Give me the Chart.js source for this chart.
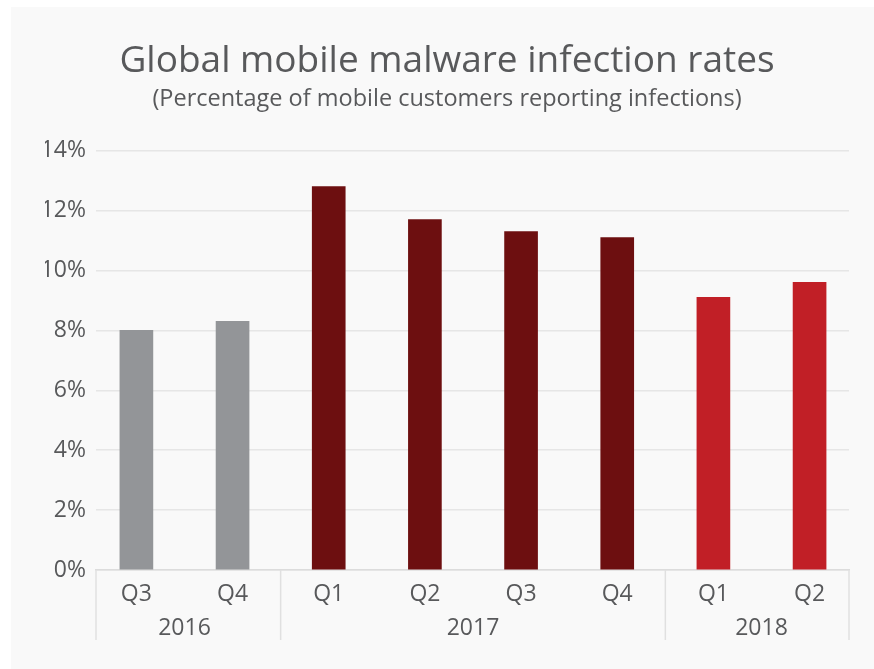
<!DOCTYPE html>
<html>
<head>
<meta charset="utf-8">
<script src="https://cdn.jsdelivr.net/npm/chart.js@4/dist/chart.umd.min.js"></script>
<style>
  html, body { margin: 0; padding: 0; background: #ffffff; }
  #wrap { position: relative; width: 874px; height: 669px; }
</style>
</head>
<body>
<div id="wrap"><canvas id="c"></canvas></div>
<script>
// ---- data ----
const quarters = ['Q3', 'Q4', 'Q1', 'Q2', 'Q3', 'Q4', 'Q1', 'Q2'];
const years    = ['2016', '2016', '2017', '2017', '2017', '2017', '2018', '2018'];
const rates    = [8.0, 8.3, 12.8, 11.7, 11.3, 11.1, 9.1, 9.6];
const yTicks   = [0, 2, 4, 6, 8, 10, 12, 14];
const yearColors = { '2016': '#939598', '2017': '#6d0f10', '2018': '#c11f26' };

const titleText = 'Global mobile malware infection rates';
const subtitleText = '(Percentage of mobile customers reporting infections)';

const textColor = '#58595b';
const fontFamily = '"Open Sans", "DejaVu Sans", sans-serif';

// group the year labels into runs
function yearRuns() {
  const runs = [];
  years.forEach((y, i) => {
    const last = runs[runs.length - 1];
    if (last && last.label === y) last.to = i;
    else runs.push({ label: y, from: i, to: i });
  });
  return runs;
}

const panelBg = {
  id: 'panelBg',
  beforeDraw(chart) {
    const ctx = chart.ctx;
    ctx.save();
    ctx.fillStyle = '#ffffff';
    ctx.fillRect(0, 0, chart.width, chart.height);
    ctx.fillStyle = '#f9f9f9';
    ctx.fillRect(11, 7, chart.width - 11, chart.height - 7);
    ctx.restore();
  }
};

const yearAxis = {
  id: 'yearAxis',
  afterDraw(chart) {
    const xs = chart.scales.x;
    const ctx = chart.ctx;
    const bottom = chart.chartArea.bottom;
    const runs = yearRuns();
    ctx.save();
    // separators
    const bounds = [xs.left];
    runs.forEach((r, k) => {
      if (k < runs.length - 1) bounds.push(xs.getPixelForValue(r.to + 0.5));
    });
    bounds.push(xs.right);
    ctx.strokeStyle = '#e0e0e0';
    ctx.lineWidth = 1.5;
    bounds.forEach(b => {
      ctx.beginPath();
      ctx.moveTo(b, bottom);
      ctx.lineTo(b, bottom + 70);
      ctx.stroke();
    });
    // year labels
    ctx.fillStyle = textColor;
    ctx.font = '23px ' + fontFamily;
    ctx.textAlign = 'center';
    ctx.textBaseline = 'middle';
    runs.forEach(r => {
      const cx = (xs.getPixelForValue(r.from) + xs.getPixelForValue(r.to)) / 2;
      ctx.fillText(r.label, cx, bottom + 58);
    });
    ctx.restore();
  }
};

new Chart(document.getElementById('c'), {
  type: 'bar',
  data: {
    datasets: [{
      data: rates.map((v, i) => ({ x: i, y: v })),
      backgroundColor: years.map(y => yearColors[y]),
      barThickness: 33,
      borderWidth: 0
    }]
  },
  plugins: [panelBg, yearAxis],
  options: {
    responsive: true,
    maintainAspectRatio: false,
    animation: false,
    layout: { padding: { left: 45, right: 25, top: 0, bottom: 0 } },
    plugins: {
      legend: { display: false },
      tooltip: { enabled: false },
      title: {
        display: true,
        text: titleText,
        color: textColor,
        font: { family: fontFamily, size: 37, weight: 'normal' },
        padding: { top: 39, bottom: 0 }
      },
      subtitle: {
        display: true,
        text: subtitleText,
        color: textColor,
        font: { family: fontFamily, size: 23.5, weight: 'normal' },
        padding: { top: 2, bottom: 37 }
      }
    },
    scales: {
      x: {
        type: 'linear',
        min: -0.42,
        max: quarters.length - 1 + 0.41,
        offset: false,
        grid: { display: false, drawTicks: false, offset: false },
        border: { display: true, color: '#dcdcdc', width: 1.5 },
        afterBuildTicks(scale) {
          scale.ticks = quarters.map((q, i) => ({ value: i }));
        },
        afterFit(scale) { scale.height = 99; },
        ticks: {
          autoSkip: false,
          maxRotation: 0,
          padding: 11,
          color: textColor,
          font: { family: fontFamily, size: 23 },
          callback: (v) => quarters[v]
        }
      },
      y: {
        min: yTicks[0],
        max: yTicks[yTicks.length - 1],
        afterBuildTicks(scale) {
          scale.ticks = yTicks.map(v => ({ value: v }));
        },
        afterFit(scale) { scale.width = 51; },
        grid: { color: '#e6e6e6', lineWidth: 1.5, drawTicks: false },
        border: { display: false },
        ticks: {
          padding: 10,
          color: textColor,
          font: { family: fontFamily, size: 23 },
          callback: (v) => v + '%'
        }
      }
    }
  }
});
</script>
</body>
</html>
